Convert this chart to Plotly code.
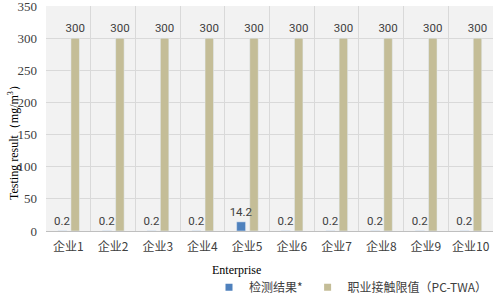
import plotly.graph_objects as go

categories = ["企业1", "企业2", "企业3", "企业4", "企业5", "企业6", "企业7", "企业8", "企业9", "企业10"]
test_results = [0.2, 0.2, 0.2, 0.2, 14.2, 0.2, 0.2, 0.2, 0.2, 0.2]
limit_values = [300, 300, 300, 300, 300, 300, 300, 300, 300, 300]
series_names = ["检测结果*", "职业接触限值（PC-TWA）"]
colors = ["#4F81BD", "#C4BD97"]
y_ticks = [0, 50, 100, 150, 200, 250, 300, 350]

label_font = dict(family="Liberation Sans Narrow, Roboto, sans-serif", size=11.5, color="#404040")

fig = go.Figure()
# gold bars drawn first so that the blue bars' labels sit on top of them
fig.add_trace(go.Bar(
    x=categories, y=limit_values, name=series_names[1], marker_color=colors[1],
    width=0.19, offset=0.058,
    text=[("%g" % v) for v in limit_values], textposition="outside", constraintext="none",
    textfont=label_font, cliponaxis=False, showlegend=False,
))
fig.add_trace(go.Bar(
    x=categories, y=test_results, name=series_names[0], marker_color=colors[0],
    width=0.2, offset=-0.235,
    text=[("%g" % v) for v in test_results], textposition="outside", constraintext="none",
    textfont=label_font, cliponaxis=False, showlegend=False,
))
for name, col in zip(series_names, colors):
    fig.add_trace(go.Scatter(
        x=[None], y=[None], mode="markers", name=name,
        marker=dict(symbol="square", size=7, color=col),
    ))

fig.update_layout(
    width=495, height=296,
    margin=dict(l=46, r=2, t=6, b=65, autoexpand=False),
    paper_bgcolor="white", plot_bgcolor="#F2F2F2",
    barmode="overlay",
    legend=dict(orientation="h", x=1.0, xanchor="right", y=-0.25, yanchor="middle",
                font=dict(family="Noto Sans CJK SC", size=12, color="#404040"),
                itemwidth=30, tracegroupgap=0, bgcolor="rgba(0,0,0,0)"),
    xaxis=dict(type="category", tickson="boundaries", showgrid=True, gridcolor="#D9D9D9",
               gridwidth=1, ticks="", showline=False, tickangle=0, ticklabelstandoff=7,
               tickfont=dict(family="Noto Sans CJK SC", size=12, color="#404040")),
    yaxis=dict(range=[0, 350], tickvals=y_ticks, showgrid=True, gridcolor="#D9D9D9",
               gridwidth=1, zeroline=True, zerolinecolor="#BFBFBF", zerolinewidth=1,
               ticks="", ticklabelstandoff=8, ticklabeloverflow="allow",
               tickfont=dict(family="Liberation Serif, Times New Roman, serif", size=13, color="#404040")),
    annotations=[
        dict(text="Enterprise", xref="paper", yref="paper", x=(236 - 46) / 447, y=-39 / 225,
             showarrow=False, xanchor="center", yanchor="middle",
             font=dict(family="Liberation Serif, Times New Roman, serif", size=12, color="#000000")),
        dict(text="Testing result（mg/m<sup>3</sup>）", xref="paper", yref="paper", x=-33 / 447,
             y=(231 - 140) / 225, textangle=-90, showarrow=False, xanchor="center", yanchor="middle",
             font=dict(family="Liberation Serif, Times New Roman, serif", size=12, color="#000000")),
    ],
)

fig.write_html("out.html", config={"displayModeBar": False},
               post_script="document.body.style.margin='0';")
